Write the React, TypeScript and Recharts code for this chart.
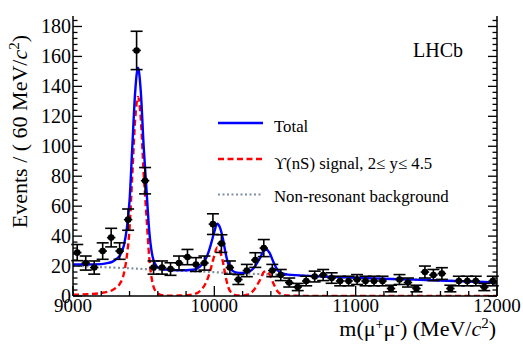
import React from "react";
import { ComposedChart, XAxis, YAxis, Line, Scatter, ErrorBar } from "recharts";

// bin centres (60 MeV bins) and events
const binMass = [
  9030, 9090, 9150, 9210, 9270, 9330, 9390, 9450, 9510, 9570,
  9630, 9690, 9750, 9810, 9870, 9930, 9990, 10050, 10110, 10170,
  10230, 10290, 10350, 10410, 10470, 10530, 10590, 10650, 10710, 10770,
  10830, 10890, 10950, 11010, 11070, 11130, 11190, 11250, 11310, 11370,
  11430, 11490, 11550, 11610, 11670, 11730, 11790, 11850, 11910, 11970,
];
const events = [
  29, 22, 19, 30, 39, 30, 51, 164, 77, 19,
  19, 18, 22, 26, 21, 22, 48, 35, 19, 11,
  17, 24, 32, 17, 14, 9, 6, 10, 13, 14,
  12, 10, 10, 11, 10, 10, 10, 5, 11, 9,
  5, 16, 14, 15, 5, 10, 10, 10, 6, 10,
];
const eventErr = [
  5.4, 4.7, 4.4, 5.5, 6.2, 5.5, 7.1, 12.8, 8.8, 4.4,
  4.4, 4.2, 4.7, 5.1, 4.6, 4.7, 6.9, 5.9, 4.4, 3.3,
  4.1, 4.9, 5.7, 4.1, 3.7, 3.0, 2.4, 3.2, 3.6, 3.7,
  3.5, 3.2, 3.2, 3.3, 3.2, 3.2, 3.2, 2.2, 3.3, 3.0,
  2.2, 4.0, 3.7, 3.9, 2.2, 3.2, 3.2, 3.2, 2.4, 3.2,
];
const BIN_HALF = 30;

// fit curves
const fitMass = [
  9000, 9100, 9200, 9250, 9280, 9310, 9330, 9360, 9380, 9400,
  9420, 9440, 9460, 9480, 9500, 9520, 9540, 9560, 9590, 9620,
  9660, 9700, 9750, 9800, 9850, 9900, 9930, 9960, 9980, 10000,
  10020, 10040, 10060, 10080, 10100, 10130, 10160, 10190, 10220, 10250,
  10280, 10310, 10330, 10350, 10370, 10390, 10420, 10450, 10480, 10520,
  10600, 10700, 10800, 11000, 11250, 11500, 11750, 12000,
];
const fitTotal = [
  21.0, 21.0, 21.3, 22.1, 23.0, 24.9, 26.8, 33.7, 44.6, 63.5,
  100.4, 136.3, 152.5, 136.1, 100.0, 70.9, 42.8, 27.7, 20.1, 18.3,
  17.6, 17.3, 17.2, 17.2, 17.5, 19.8, 23.2, 29.6, 36.0, 42.9,
  48.3, 45.7, 38.6, 28.5, 20.9, 16.8, 15.6, 15.4, 15.6, 16.4,
  18.8, 23.2, 26.6, 30.5, 30.9, 28.9, 22.3, 17.0, 15.1, 14.3,
  13.8, 13.3, 12.9, 12.2, 11.4, 10.7, 9.9, 9.0,
];
const fitSignal = [
  0.8, 1.2, 2.0, 3.0, 4.0, 6.0, 8.0, 15, 26, 45,
  82, 118, 133, 118, 82, 53, 25, 10, 2.5, 0.8,
  0.3, 0.2, 0.3, 0.5, 1.0, 3.5, 7.0, 13.5, 20, 27,
  32.5, 30, 23, 13, 5.5, 1.5, 0.4, 0.3, 0.6, 1.5,
  4.0, 8.5, 12, 16, 16.5, 14.5, 8.0, 2.8, 1.0, 0.3,
  0.1, 0, 0, 0, 0, 0, 0, 0,
];
const fitBkg = [
  20.2, 19.8, 19.3, 19.1, 19.0, 18.9, 18.8, 18.7, 18.6, 18.5,
  18.4, 18.3, 18.2, 18.1, 18.0, 17.9, 17.8, 17.7, 17.6, 17.5,
  17.3, 17.1, 16.9, 16.7, 16.5, 16.3, 16.2, 16.1, 16.0, 15.9,
  15.8, 15.7, 15.6, 15.5, 15.4, 15.3, 15.2, 15.1, 15.0, 14.9,
  14.8, 14.7, 14.6, 14.5, 14.4, 14.4, 14.3, 14.2, 14.1, 14.0,
  13.7, 13.3, 12.9, 12.2, 11.4, 10.7, 9.9, 9.0,
];

const xTicks = [
  9000, 9200, 9400, 9600, 9800, 10000, 10200, 10400, 10600, 10800,
  11000, 11200, 11400, 11600, 11800, 12000,
];
const yTicks = [
  0, 4, 8, 12, 16, 20, 24, 28, 32, 36, 40, 44, 48, 52, 56, 60, 64, 68, 72, 76,
  80, 84, 88, 92, 96, 100, 104, 108, 112, 116, 120, 124, 128, 132, 136, 140,
  144, 148, 152, 156, 160, 164, 168, 172, 176, 180, 184,
];

const serif = { fontFamily: "Liberation Serif, DejaVu Serif, serif" };

const points = binMass.map((m, i) => ({ m, n: events[i], ey: eventErr[i], ex: BIN_HALF }));
const curve = fitMass.map((m, i) => ({ m, total: fitTotal[i], sig: fitSignal[i], bkg: fitBkg[i] }));

function BottomTick(p: any) {
  const major = p.payload.value % 1000 === 0;
  return (
    <g>
      <line x1={p.x} x2={p.x} y1={p.y} y2={p.y - (major ? 10 : 5)} stroke="#000" strokeWidth={1.3} />
      {major && (
        <text x={p.x} y={p.y + 16} textAnchor="middle" fontSize={19} style={serif} fill="#000">
          {p.payload.value}
        </text>
      )}
    </g>
  );
}
function TopTick(p: any) {
  const major = p.payload.value % 1000 === 0;
  return <line x1={p.x} x2={p.x} y1={p.y} y2={p.y + (major ? 10 : 5)} stroke="#000" strokeWidth={1.3} />;
}
function LeftTick(p: any) {
  const major = p.payload.value % 20 === 0;
  return (
    <g>
      <line x1={p.x} x2={p.x + (major ? 9 : 4.5)} y1={p.y} y2={p.y} stroke="#000" strokeWidth={1.3} />
      {major && (
        <text x={p.x - 2} y={p.y + 7} textAnchor="end" fontSize={20} style={serif} fill="#000">
          {p.payload.value}
        </text>
      )}
    </g>
  );
}
function RightTick(p: any) {
  const major = p.payload.value % 20 === 0;
  return <line x1={p.x} x2={p.x - (major ? 9 : 4.5)} y1={p.y} y2={p.y} stroke="#000" strokeWidth={1.3} />;
}

const dot = (p: any) => <circle cx={p.cx} cy={p.cy} r={3.3} fill="#000" />;

export default function App() {
  return (
    <div style={{ position: "absolute", left: 0, top: 0, width: 523, height: 354, background: "#fff" }}>
      <ComposedChart width={523} height={354} data={curve} margin={{ top: 16, right: 0, bottom: 0, left: 0 }}>
        <XAxis dataKey="m" type="number" domain={[9000, 12000]} allowDataOverflow ticks={xTicks} interval={0}
          height={58} tickSize={0} tickMargin={0} tick={<BottomTick />} tickLine={false}
          axisLine={{ stroke: "#000", strokeWidth: 1.5 }} />
        <XAxis xAxisId="top" orientation="top" dataKey="m" type="number" domain={[9000, 12000]} allowDataOverflow
          ticks={xTicks} interval={0} height={0} tickSize={0} tickMargin={0} tick={<TopTick />} tickLine={false}
          axisLine={{ stroke: "#000", strokeWidth: 1.5 }} />
        <YAxis type="number" domain={[0, 187]} allowDataOverflow ticks={yTicks} interval={0} width={73}
          tickSize={0} tickMargin={0} tick={<LeftTick />} tickLine={false}
          axisLine={{ stroke: "#000", strokeWidth: 1.5 }} />
        <YAxis yAxisId="r" orientation="right" type="number" domain={[0, 187]} allowDataOverflow ticks={yTicks}
          interval={0} width={26} tickSize={0} tickMargin={0} tick={<RightTick />} tickLine={false}
          axisLine={{ stroke: "#000", strokeWidth: 1.5 }} />
        <Line dataKey="bkg" type="monotone" stroke="#8090a2" strokeWidth={2.2} strokeDasharray="2 2.5"
          dot={false} isAnimationActive={false} />
        <Line dataKey="sig" type="monotone" stroke="#ff0000" strokeWidth={2.4} strokeDasharray="6 3.5"
          dot={false} isAnimationActive={false} />
        <Line dataKey="total" type="monotone" stroke="#0000ff" strokeWidth={2.4}
          dot={false} isAnimationActive={false} />
        <Scatter data={points} dataKey="n" shape={dot} isAnimationActive={false}>
          <ErrorBar dataKey="ey" direction="y" width={6} stroke="#000" strokeWidth={1.6} isAnimationActive={false} />
          <ErrorBar dataKey="ex" direction="x" width={0} stroke="#000" strokeWidth={1.6} isAnimationActive={false} />
        </Scatter>
      </ComposedChart>
      <svg width={523} height={354} style={{ position: "absolute", left: 0, top: 0, pointerEvents: "none", ...serif }}
        fill="#000">
        <text transform="rotate(-90 27 35)" x={27} y={35} textAnchor="end" fontSize={22}>
          Events / ( 60 MeV/<tspan fontStyle="italic">c</tspan>
          <tspan dy={-8} fontSize={15}>2</tspan>
          <tspan dy={8}>)</tspan>
        </text>
        <text x={496} y={336} textAnchor="end" fontSize={22}>
          m(μ<tspan dy={-7} fontSize={14}>+</tspan>
          <tspan dy={7}>μ</tspan>
          <tspan dy={-7} fontSize={14}>-</tspan>
          <tspan dy={7}>) (MeV/</tspan>
          <tspan fontStyle="italic">c</tspan>
          <tspan dy={-8} fontSize={15}>2</tspan>
          <tspan dy={8}>)</tspan>
        </text>
        <text x={413} y={57} fontSize={20}>LHCb</text>
        <line x1={218} x2={263} y1={123} y2={123} stroke="#0000ff" strokeWidth={2.4} />
        <text x={274} y={131.5} fontSize={16.8}>Total</text>
        <line x1={218} x2={263} y1={159} y2={159} stroke="#ff0000" strokeWidth={2.4} strokeDasharray="6 3.5" />
        <text x={274} y={168.5} fontSize={16.8}>ϒ(nS) signal, 2≤ y≤ 4.5</text>
        <line x1={218} x2={263} y1={194.5} y2={194.5} stroke="#8090a2" strokeWidth={2.2} strokeDasharray="2 2.5" />
        <text x={274} y={201.5} fontSize={16.8}>Non-resonant background</text>
      </svg>
    </div>
  );
}
